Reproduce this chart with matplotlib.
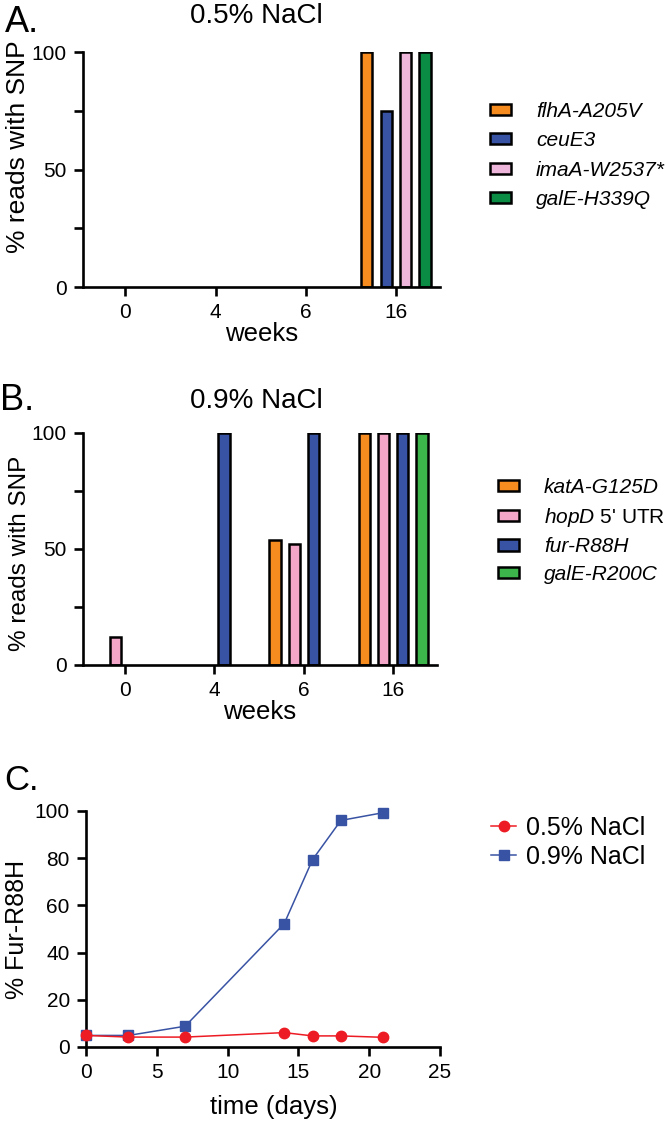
import numpy as np
import matplotlib
matplotlib.use("Agg")
import matplotlib.pyplot as plt
from matplotlib.patches import Patch
from matplotlib.lines import Line2D

plt.rcParams['font.family'] = ['Liberation Sans', 'DejaVu Sans']
plt.rcParams['mathtext.fontset'] = 'custom'
plt.rcParams['mathtext.it'] = 'Liberation Sans:italic'
plt.rcParams['mathtext.rm'] = 'Liberation Sans'

# ---- data ----
weeks = ["0", "4", "6", "16"]

# panel A: 0.5% NaCl
a_labels = ["flhA-A205V", "ceuE3", "imaA-W2537*", "galE-H339Q"]
a_flhA = [0, 0, 0, 100]
a_ceuE3 = [0, 0, 0, 75]
a_imaA = [0, 0, 0, 100]
a_galE = [0, 0, 0, 100]
a_colors = ["#F68B1F", "#3953A4", "#EDB6DA", "#0B8C45"]

# panel B: 0.9% NaCl
b_labels = ["katA-G125D", r"$\mathit{hopD}$ 5' UTR", "fur-R88H", "galE-R200C"]
b_katA = [0, 0, 54, 100]
b_hopD = [12, 0, 52, 100]
b_fur = [0, 100, 100, 100]
b_galE = [0, 0, 0, 100]
b_colors = ["#F68B1F", "#F4A6C9", "#3953A4", "#3CB64A"]

# panel C: Fur-R88H over time
days = [0, 3, 7, 14, 16, 18, 21]
fur_05 = [4.9, 4.2, 4.2, 6.1, 4.7, 4.7, 4.1]
fur_09 = [4.9, 4.9, 8.8, 52.3, 79.4, 96, 99.3]

W, H = 666, 1122
fig = plt.figure(figsize=(W / 100, H / 100), dpi=100)


def px_axes(left, top, right, bottom):
    return fig.add_axes([left / W, 1 - bottom / H, (right - left) / W, (bottom - top) / H])


def style_axes(ax):
    for s in ["top", "right"]:
        ax.spines[s].set_visible(False)
    for s in ["left", "bottom"]:
        ax.spines[s].set_linewidth(1.9)
    ax.tick_params(axis="both", which="major", length=6.2, width=1.9, labelsize=15, pad=5.5)
    ax.tick_params(axis="y", which="minor", length=6.2, width=1.9)


def bar_panel(ax, series, colors, labels, ylab, ylab_size, ylab_y, leg_left, leg_cy, spacing):
    x = np.arange(len(weeks))
    bw, step = 0.125, 0.215
    handles = []
    for i, (vals, col) in enumerate(zip(series, colors)):
        vals = np.array(vals, dtype=float)
        # zero-height bars are not drawn in the original
        vals = np.where(vals > 0, vals, np.nan)
        ax.bar(x + (i - 1.5) * step, vals, width=bw, color=col, edgecolor="black",
               linewidth=1.8, zorder=2)
        handles.append(Patch(facecolor=col, edgecolor="black", linewidth=1.8))
    ax.set_xlim(-0.47, 3.49)
    ax.set_ylim(0, 100)
    ax.set_xticks(x)
    ax.set_xticklabels(weeks)
    ax.set_yticks([0, 50, 100])
    ax.set_yticks([25, 75], minor=True)
    style_axes(ax)
    ax.set_xlabel("weeks", fontsize=18.5, labelpad=0)
    ax.set_ylabel(ylab, fontsize=ylab_size)
    ax.yaxis.set_label_coords(-0.148, ylab_y)
    leg = ax.legend(handles, labels, loc="center left",
                    bbox_to_anchor=(leg_left / W, 1 - leg_cy / H),
                    bbox_transform=fig.transFigure, frameon=False,
                    prop={"size": 15, "style": "italic"}, handlelength=1.0,
                    handleheight=0.45, handletextpad=1.2, labelspacing=spacing,
                    borderpad=0, borderaxespad=0)
    return leg


# ---- panel A ----
axA = px_axes(83, 52, 440, 287)
bar_panel(axA, [a_flhA, a_ceuE3, a_imaA, a_galE], a_colors, a_labels,
          "% reads with SNP", 19, 0.596, 490, 155.5, 0.5)
fig.text(5 / W, 1 - 32 / H, "A.", fontsize=26, va="baseline", ha="left")
fig.text(256 / W, 1 - 23 / H, "0.5% NaCl", fontsize=20, va="baseline", ha="center")

# ---- panel B ----
axB = px_axes(83, 433, 437, 665)
legB = bar_panel(axB, [b_katA, b_hopD, b_fur, b_galE], b_colors, b_labels,
                 "% reads with SNP", 17.5, 0.48, 498, 531, 0.42)
legB.get_texts()[1].set_fontstyle("normal")
fig.text(0 / W, 1 - 410 / H, "B.", fontsize=26, va="baseline", ha="left")
fig.text(256 / W, 1 - 408 / H, "0.9% NaCl", fontsize=20, va="baseline", ha="center")

# ---- panel C ----
axC = px_axes(86, 811, 440, 1047)
axC.plot(days, fur_09, color="#3953A4", marker="s", markersize=7.5, linewidth=1.1,
         clip_on=False, zorder=3)
axC.plot(days, fur_05, color="#ED1C24", marker="o", markersize=7.5, linewidth=1.1,
         clip_on=False, zorder=4)
axC.set_xlim(0, 25)
axC.set_ylim(0, 100)
axC.set_xticks(np.arange(0, 26, 5))
axC.set_yticks(np.arange(0, 101, 20))
style_axes(axC)
axC.set_xlabel("time (days)", fontsize=18.5)
axC.xaxis.set_label_coords(0.53, -0.205)
axC.set_ylabel("% Fur-R88H", fontsize=18)
axC.yaxis.set_label_coords(-0.16, 0.5)
hC = [Line2D([], [], color="#ED1C24", marker="o", markersize=7.5, linewidth=1.1),
      Line2D([], [], color="#3953A4", marker="s", markersize=7.5, linewidth=1.1)]
axC.legend(hC, ["0.5% NaCl", "0.9% NaCl"], loc="center left",
           bbox_to_anchor=(491 / W, 1 - 842.5 / H), bbox_transform=fig.transFigure,
           frameon=False, fontsize=18, handlelength=1.0, handletextpad=0.4,
           labelspacing=0.2, borderpad=0, borderaxespad=0)
fig.text(4 / W, 1 - 790 / H, "C.", fontsize=25, va="baseline", ha="left")

fig.savefig("out.png", dpi=100)
